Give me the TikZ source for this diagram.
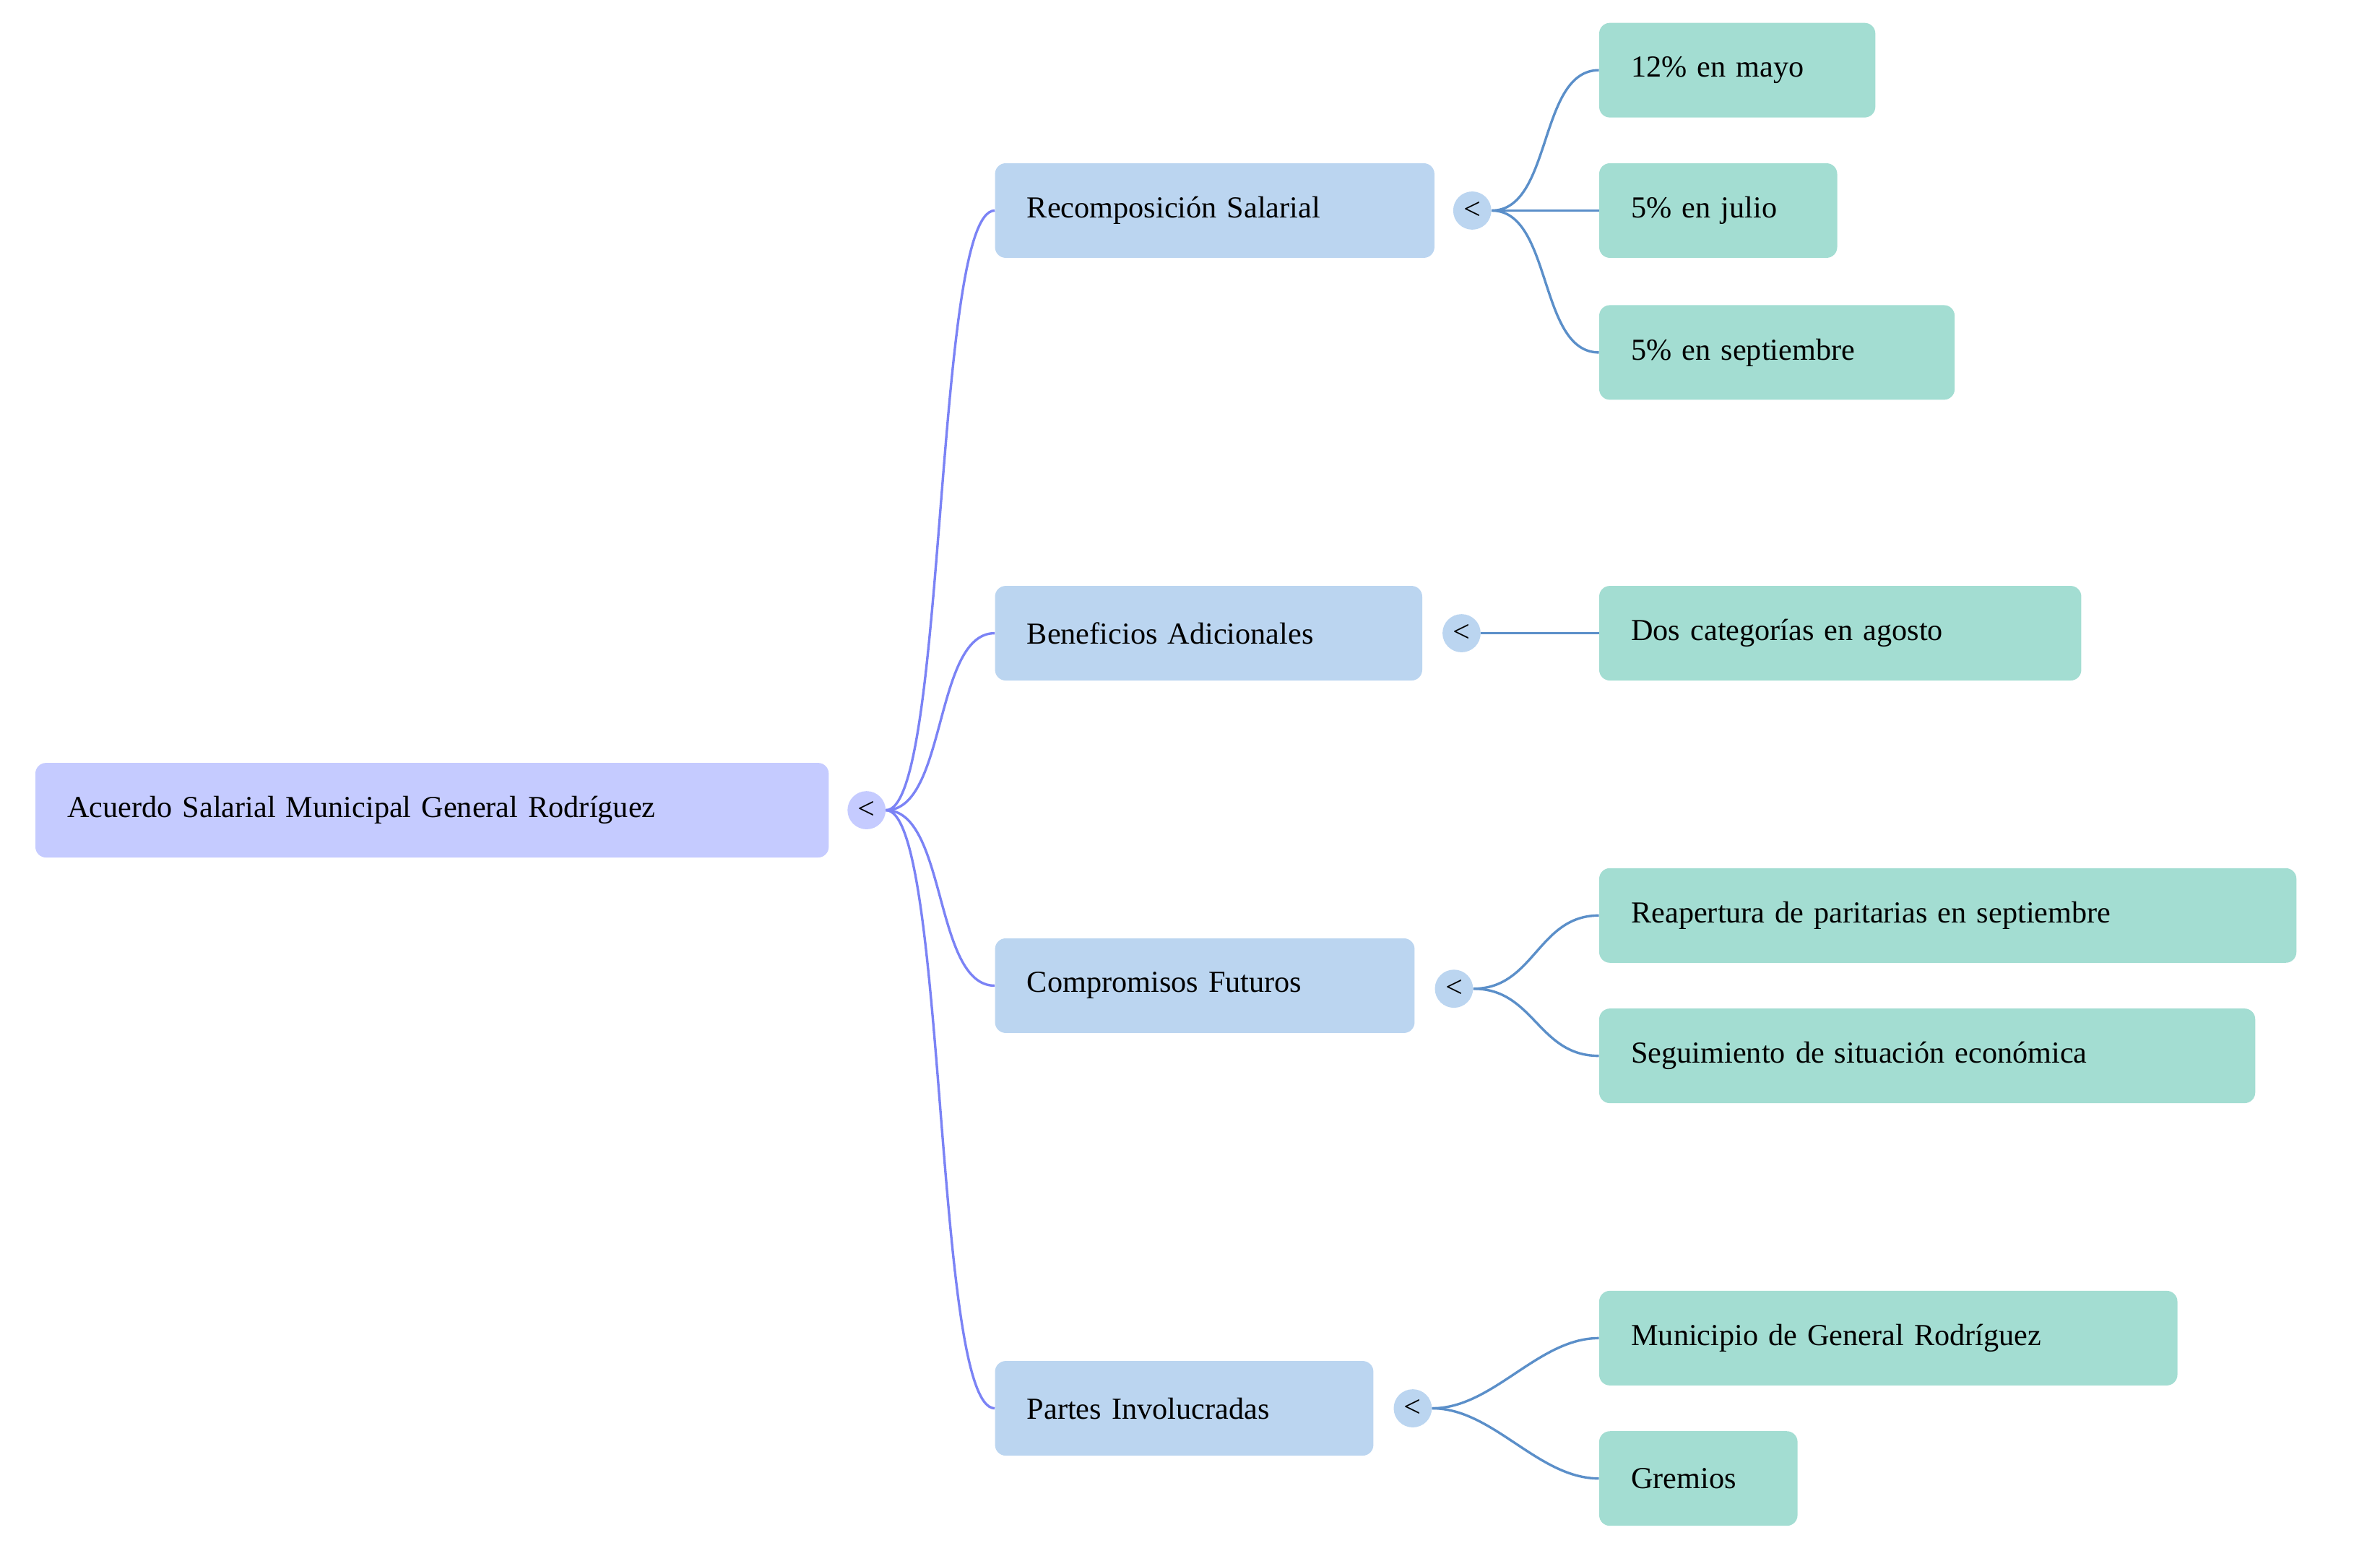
\documentclass[tikz,border=0pt]{standalone}
\usepackage{fontspec}
\setmainfont{Liberation Serif}
\usetikzlibrary{positioning}
\definecolor{rootfill}{HTML}{C5CBFF}
\definecolor{midfill}{HTML}{BBD5F0}
\definecolor{leaffill}{HTML}{A3DDD2}
\definecolor{rootline}{HTML}{7B83F5}
\definecolor{midline}{HTML}{5B8FC9}
\tikzset{%
	box/.style={rectangle, rounded corners=7pt, minimum height=62pt, inner xsep=21pt,%
		anchor=west, align=left, font=\fontsize{20}{24}\selectfont},
	root/.style={box, fill=rootfill},
	mid/.style={box, fill=midfill},
	leaf/.style={box, fill=leaffill},
	knob/.style={circle, minimum size=25pt, inner sep=0pt, font=\fontsize{20}{24}\selectfont},
	rootedge/.style={draw=rootline, line width=1.6pt},
	midedge/.style={draw=midline, line width=1.6pt}
}
\begin{document}
\begin{tikzpicture}[x=1pt, y=-1pt]
	\useasboundingbox (0,0) rectangle (1560,1011);
	\node[root, text width=478pt] (acuerdo) at (23,531) {Acuerdo Salarial Municipal General Rodríguez};
	\node[knob, fill=rootfill] (k-acuerdo) at (568,531) {<};
	% nivel 1
	\node[mid, text width=246pt] (recomp) at (652,138) {Recomposición Salarial};
	\node[mid, text width=238pt] (benef) at (652,415) {Beneficios Adicionales};
	\node[mid, text width=233pt] (compr) at (652,646) {Compromisos Futuros};
	\node[mid, text width=206pt] (partes) at (652,923) {Partes Involucradas};
	\node[knob, fill=midfill] (k-recomp) at (965,138) {<};
	\node[knob, fill=midfill] (k-benef) at (958,415) {<};
	\node[knob, fill=midfill] (k-compr) at (953,648) {<};
	\node[knob, fill=midfill] (k-partes) at (926,923) {<};
	% hojas
	\node[leaf, text width=139pt] (mayo) at (1048,46) {12\% en mayo};
	\node[leaf, text width=114pt] (julio) at (1048,138) {5\% en julio};
	\node[leaf, text width=191pt] (sept) at (1048,231) {5\% en septiembre};
	\node[leaf, text width=274pt] (categ) at (1048,415) {Dos categorías en agosto};
	\node[leaf, text width=415pt] (reaper) at (1048,600) {Reapertura de paritarias en septiembre};
	\node[leaf, text width=388pt] (segui) at (1048,692) {Seguimiento de situación económica};
	\node[leaf, text width=337pt] (munic) at (1048,877) {Municipio de General Rodríguez};
	\node[leaf, text width=88pt] (gremios) at (1048,969) {Gremios};
	\foreach \t in {recomp, benef, compr, partes}
		\draw[rootedge] (k-acuerdo.east) .. controls +(40,0) and +(-40,0) .. (\t.west);
	\foreach \s/\t in {recomp/mayo, recomp/julio, recomp/sept, benef/categ,%
		compr/reaper, compr/segui, partes/munic, partes/gremios}
		\draw[midedge] (k-\s.east) .. controls +(40,0) and +(-40,0) .. (\t.west);
\end{tikzpicture}
\end{document}
